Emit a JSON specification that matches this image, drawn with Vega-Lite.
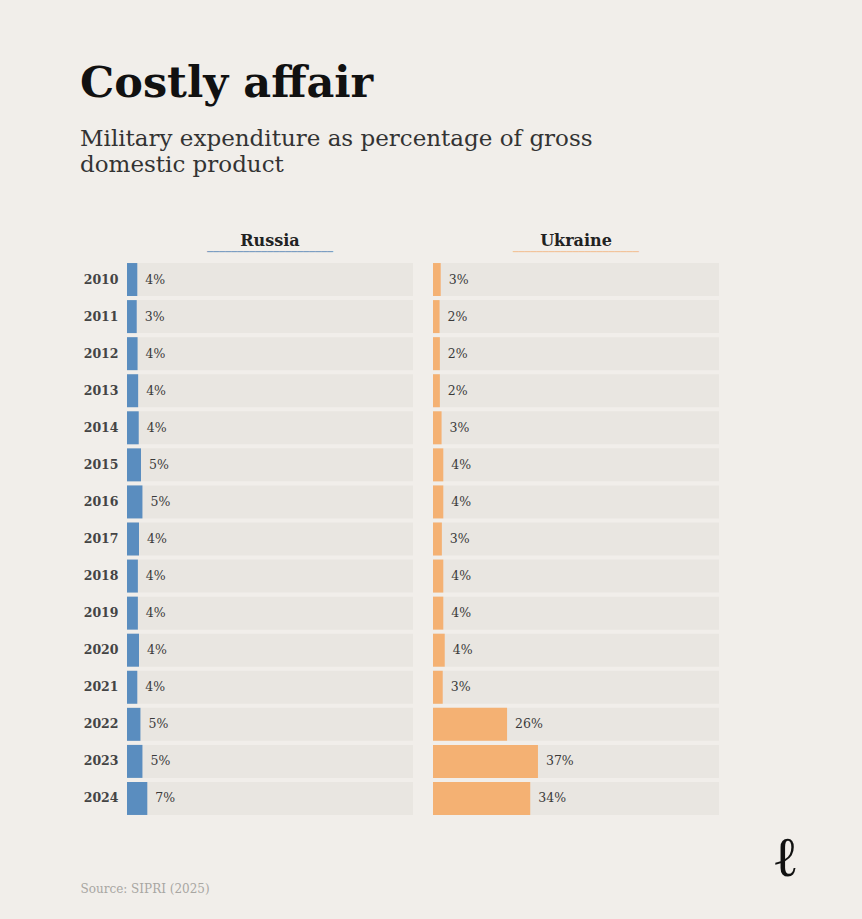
{
  "$schema": "https://vega.github.io/schema/vega-lite/v6.json",
  "background": "#f1eeea",
  "padding": {"left": 80, "top": 63, "right": 145, "bottom": 102},
  "title": {
    "text": "Costly affair",
    "subtitle": ["Military expenditure as percentage of gross", "domestic product"],
    "anchor": "start",
    "frame": "bounds",
    "font": "DejaVu Serif",
    "fontSize": 43,
    "fontWeight": "bold",
    "color": "#111111",
    "subtitleFont": "DejaVu Serif",
    "subtitleFontSize": 23,
    "subtitleColor": "#333333",
    "subtitleLineHeight": 26,
    "subtitlePadding": 22,
    "offset": 56,
    "dx": 0
  },
  "datasets": {
    "russia": [
      {"year": 2010, "value": 3.6, "label": "4%"},
      {"year": 2011, "value": 3.4, "label": "3%"},
      {"year": 2012, "value": 3.7, "label": "4%"},
      {"year": 2013, "value": 3.9, "label": "4%"},
      {"year": 2014, "value": 4.1, "label": "4%"},
      {"year": 2015, "value": 4.9, "label": "5%"},
      {"year": 2016, "value": 5.4, "label": "5%"},
      {"year": 2017, "value": 4.2, "label": "4%"},
      {"year": 2018, "value": 3.8, "label": "4%"},
      {"year": 2019, "value": 3.8, "label": "4%"},
      {"year": 2020, "value": 4.2, "label": "4%"},
      {"year": 2021, "value": 3.6, "label": "4%"},
      {"year": 2022, "value": 4.7, "label": "5%"},
      {"year": 2023, "value": 5.4, "label": "5%"},
      {"year": 2024, "value": 7.1, "label": "7%"}
    ],
    "ukraine": [
      {"year": 2010, "value": 2.7, "label": "3%"},
      {"year": 2011, "value": 2.3, "label": "2%"},
      {"year": 2012, "value": 2.4, "label": "2%"},
      {"year": 2013, "value": 2.4, "label": "2%"},
      {"year": 2014, "value": 3.0, "label": "3%"},
      {"year": 2015, "value": 3.6, "label": "4%"},
      {"year": 2016, "value": 3.6, "label": "4%"},
      {"year": 2017, "value": 3.1, "label": "3%"},
      {"year": 2018, "value": 3.6, "label": "4%"},
      {"year": 2019, "value": 3.6, "label": "4%"},
      {"year": 2020, "value": 4.1, "label": "4%"},
      {"year": 2021, "value": 3.4, "label": "3%"},
      {"year": 2022, "value": 25.9, "label": "26%"},
      {"year": 2023, "value": 36.7, "label": "37%"},
      {"year": 2024, "value": 34.0, "label": "34%"}
    ]
  },
  "spacing": 20,
  "hconcat": [
    {
      "width": 286,
      "height": 556,
      "data": {"name": "russia"},
      "title": {
        "text": "Russia",
        "subtitle": "_____________________",
        "anchor": "middle",
        "font": "DejaVu Serif",
        "fontSize": 16,
        "fontWeight": "bold",
        "color": "#222222",
        "subtitleFont": "DejaVu Sans",
        "subtitleFontSize": 12,
        "subtitleFontWeight": "bold",
        "subtitleColor": "#7c9fc2",
        "subtitlePadding": -9,
        "offset": 10
      },
      "encoding": {
        "y": {
          "field": "year",
          "type": "ordinal",
          "scale": {"paddingInner": 0.11, "paddingOuter": 0.055},
          "axis": {
            "title": null,
            "domain": false,
            "ticks": false,
            "labelFont": "DejaVu Serif",
            "labelFontWeight": "bold",
            "labelFontSize": 12.5,
            "labelColor": "#444444",
            "labelPadding": 9
          }
        }
      },
      "layer": [
        {
          "mark": {"type": "bar", "color": "#e9e6e1"},
          "encoding": {
            "x": {
              "datum": 100,
              "type": "quantitative",
              "scale": {"domain": [0, 100]},
              "title": "Source: SIPRI (2025)",
              "axis": {
                "title": "Source: SIPRI (2025)",
                "domain": false,
                "ticks": false,
                "labels": false,
                "grid": false,
                "titleX": -47,
                "titleY": 71,
                "titleAlign": "left",
                "titleBaseline": "middle",
                "titleFont": "DejaVu Serif",
                "titleFontSize": 12,
                "titleFontWeight": "normal",
                "titleColor": "#a8a6a2"
              }
            }
          }
        },
        {
          "mark": {"type": "bar", "color": "#5a8dbf"},
          "encoding": {
            "x": {
              "field": "value",
              "type": "quantitative",
              "title": "Source: SIPRI (2025)",
              "axis": {
                "title": "Source: SIPRI (2025)",
                "domain": false,
                "ticks": false,
                "labels": false,
                "grid": false,
                "titleX": -47,
                "titleY": 71,
                "titleAlign": "left",
                "titleBaseline": "middle",
                "titleFont": "DejaVu Serif",
                "titleFontSize": 12,
                "titleFontWeight": "normal",
                "titleColor": "#a8a6a2"
              }
            }
          }
        },
        {
          "mark": {"type": "text", "align": "left", "dx": 8, "font": "DejaVu Serif", "fontSize": 12.5, "color": "#3a3a3a"},
          "encoding": {
            "x": {
              "field": "value",
              "type": "quantitative",
              "title": "Source: SIPRI (2025)",
              "axis": {
                "title": "Source: SIPRI (2025)",
                "domain": false,
                "ticks": false,
                "labels": false,
                "grid": false,
                "titleX": -47,
                "titleY": 71,
                "titleAlign": "left",
                "titleBaseline": "middle",
                "titleFont": "DejaVu Serif",
                "titleFontSize": 12,
                "titleFontWeight": "normal",
                "titleColor": "#a8a6a2"
              }
            },
            "text": {"field": "label"}
          }
        }
      ]
    },
    {
      "width": 286,
      "height": 556,
      "data": {"name": "ukraine"},
      "title": {
        "text": "Ukraine",
        "subtitle": "_____________________",
        "anchor": "middle",
        "font": "DejaVu Serif",
        "fontSize": 16,
        "fontWeight": "bold",
        "color": "#222222",
        "subtitleFont": "DejaVu Sans",
        "subtitleFontSize": 12,
        "subtitleFontWeight": "bold",
        "subtitleColor": "#f2c49b",
        "subtitlePadding": -9,
        "offset": 10
      },
      "encoding": {
        "y": {
          "field": "year",
          "type": "ordinal",
          "scale": {"paddingInner": 0.11, "paddingOuter": 0.055},
          "axis": null
        }
      },
      "layer": [
        {
          "mark": {"type": "bar", "color": "#e9e6e1"},
          "encoding": {
            "x": {
              "datum": 100,
              "type": "quantitative",
              "scale": {"domain": [0, 100]},
              "title": "ℓ",
              "axis": {
                "title": "ℓ",
                "domain": false,
                "ticks": false,
                "labels": false,
                "grid": false,
                "titleX": 352,
                "titleY": 41,
                "titleAlign": "center",
                "titleBaseline": "middle",
                "titleFont": "DejaVu Serif",
                "titleFontSize": 56,
                "titleFontWeight": "normal",
                "titleColor": "#111111"
              }
            }
          }
        },
        {
          "mark": {"type": "bar", "color": "#f4b173"},
          "encoding": {
            "x": {
              "field": "value",
              "type": "quantitative",
              "title": "ℓ",
              "axis": {
                "title": "ℓ",
                "domain": false,
                "ticks": false,
                "labels": false,
                "grid": false,
                "titleX": 352,
                "titleY": 41,
                "titleAlign": "center",
                "titleBaseline": "middle",
                "titleFont": "DejaVu Serif",
                "titleFontSize": 56,
                "titleFontWeight": "normal",
                "titleColor": "#111111"
              }
            }
          }
        },
        {
          "mark": {"type": "text", "align": "left", "dx": 8, "font": "DejaVu Serif", "fontSize": 12.5, "color": "#3a3a3a"},
          "encoding": {
            "x": {
              "field": "value",
              "type": "quantitative",
              "title": "ℓ",
              "axis": {
                "title": "ℓ",
                "domain": false,
                "ticks": false,
                "labels": false,
                "grid": false,
                "titleX": 352,
                "titleY": 41,
                "titleAlign": "center",
                "titleBaseline": "middle",
                "titleFont": "DejaVu Serif",
                "titleFontSize": 56,
                "titleFontWeight": "normal",
                "titleColor": "#111111"
              }
            },
            "text": {"field": "label"}
          }
        }
      ]
    }
  ],
  "config": {"view": {"stroke": null}}
}
